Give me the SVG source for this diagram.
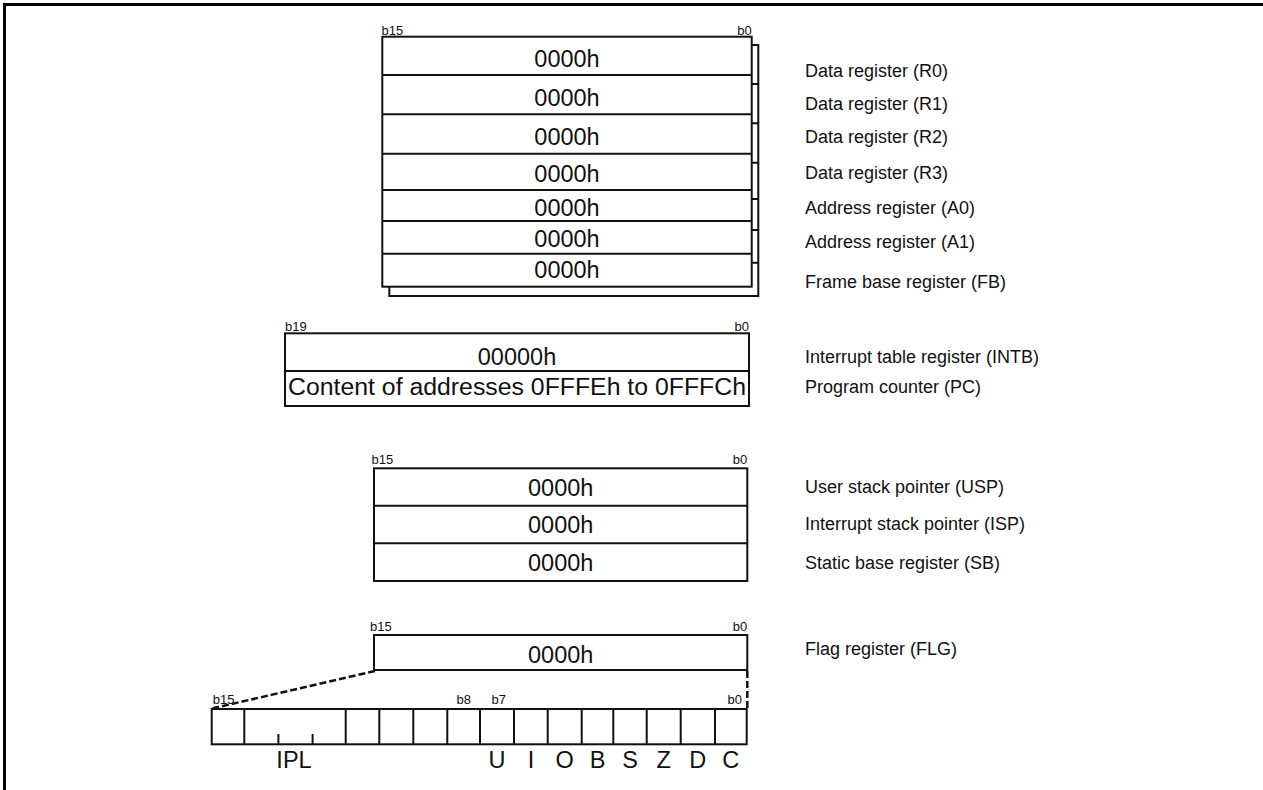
<svg xmlns="http://www.w3.org/2000/svg" width="1263" height="790" viewBox="0 0 1263 790">
<style>
.box{fill:#fff;stroke:#111;stroke-width:2}
.ln{stroke:#111;stroke-width:2;fill:none}
.dash{stroke:#111;stroke-width:2.5;fill:none;stroke-dasharray:7 3}
.v{font-family:"Liberation Sans",Arial,sans-serif;font-size:23.5px;fill:#111;text-anchor:middle}
.b{font-family:"Liberation Sans",Arial,sans-serif;font-size:13px;fill:#111}
.lbl{font-family:"Liberation Sans",Arial,sans-serif;font-size:18px;fill:#111}
.fl{font-family:"Liberation Sans",Arial,sans-serif;font-size:23.5px;fill:#111;text-anchor:middle}
</style>
<rect width="1263" height="790" fill="#fff"/>
<path d="M4.5 790 V4.5 H1263" stroke="#000" stroke-width="3" fill="none"/>

<g id="bank-shadow">
<path class="ln" d="M751.7 45 H758.3 V296 H389.3 V286.7"/>
<path class="ln" d="M751.7 84 H758.3 M751.7 123.3 H758.3 M751.7 162.7 H758.3 M751.7 199 H758.3 M751.7 230 H758.3 M751.7 262.7 H758.3"/>
</g>

<g id="reg-bank">
<text class="b" x="381.5" y="35">b15</text>
<text class="b" x="751.7" y="35" text-anchor="end">b0</text>
<rect class="box" x="382.3" y="36.7" width="369.4" height="250"/>
<path class="ln" d="M382.3 75 H751.7 M382.3 114.3 H751.7 M382.3 153.7 H751.7 M382.3 190 H751.7 M382.3 221 H751.7 M382.3 253.7 H751.7"/>
<text class="v" x="567" y="67.3">0000h</text>
<text class="v" x="567" y="106">0000h</text>
<text class="v" x="567" y="145">0000h</text>
<text class="v" x="567" y="182.3">0000h</text>
<text class="v" x="567" y="215.7">0000h</text>
<text class="v" x="567" y="246.7">0000h</text>
<text class="v" x="567" y="278.3">0000h</text>
</g>

<g id="intb-pc">
<text class="b" x="285" y="330.7">b19</text>
<text class="b" x="749" y="330.7" text-anchor="end">b0</text>
<rect class="box" x="285" y="333.3" width="464" height="72.7"/>
<path class="ln" d="M285 371 H749"/>
<text class="v" x="517" y="365">00000h</text>
<text class="v" x="517" y="395" textLength="458" lengthAdjust="spacingAndGlyphs">Content of addresses 0FFFEh to 0FFFCh</text>
</g>

<g id="stack-regs">
<text class="b" x="371.5" y="464.3">b15</text>
<text class="b" x="747.3" y="464.3" text-anchor="end">b0</text>
<rect class="box" x="374" y="468.3" width="373.3" height="112.7"/>
<path class="ln" d="M374 505.7 H747.3 M374 543.3 H747.3"/>
<text class="v" x="560.7" y="495.7">0000h</text>
<text class="v" x="560.7" y="533.3">0000h</text>
<text class="v" x="560.7" y="571">0000h</text>
</g>

<g id="flg">
<text class="b" x="370" y="630.7">b15</text>
<text class="b" x="747.3" y="630.7" text-anchor="end">b0</text>
<rect class="box" x="374" y="635" width="373.3" height="35"/>
<text class="v" x="560.7" y="662.7">0000h</text>
</g>

<g id="connectors">
<path class="dash" d="M375 671 L212.7 708.3"/>
<path class="dash" d="M747.3 671 V708.3"/>
</g>

<g id="flag-bits">
<text class="b" x="212.7" y="704.3">b15</text>
<text class="b" x="456.5" y="704.3">b8</text>
<text class="b" x="491.5" y="704.3">b7</text>
<text class="b" x="742" y="704.3" text-anchor="end">b0</text>
<rect class="box" x="211.7" y="709" width="535" height="35.3"/>
<path class="ln" d="M244.3 709 V744.3 M345.7 709 V744.3 M379.3 709 V744.3 M413.3 709 V744.3 M447.3 709 V744.3 M480 709 V744.3 M514 709 V744.3 M547.7 709 V744.3 M581.7 709 V744.3 M613.3 709 V744.3 M646.7 709 V744.3 M680.7 709 V744.3 M715 709 V744.3"/>
<path class="ln" d="M278.4 734 V744.3 M312.6 734 V744.3"/>
<text class="fl" x="294" y="767.5">IPL</text>
<text class="fl" x="497" y="767.5">U</text>
<text class="fl" x="531" y="767.5">I</text>
<text class="fl" x="564.7" y="767.5">O</text>
<text class="fl" x="597.5" y="767.5">B</text>
<text class="fl" x="630" y="767.5">S</text>
<text class="fl" x="663.7" y="767.5">Z</text>
<text class="fl" x="697.8" y="767.5">D</text>
<text class="fl" x="730.8" y="767.5">C</text>
</g>

<g id="labels">
<text class="lbl" x="805" y="77">Data register (R0)</text>
<text class="lbl" x="805" y="110">Data register (R1)</text>
<text class="lbl" x="805" y="142.5">Data register (R2)</text>
<text class="lbl" x="805" y="179">Data register (R3)</text>
<text class="lbl" x="805" y="214">Address register (A0)</text>
<text class="lbl" x="805" y="248">Address register (A1)</text>
<text class="lbl" x="805" y="287.5">Frame base register (FB)</text>
<text class="lbl" x="805" y="362.5">Interrupt table register (INTB)</text>
<text class="lbl" x="805" y="392.5">Program counter (PC)</text>
<text class="lbl" x="805" y="492.5">User stack pointer (USP)</text>
<text class="lbl" x="805" y="529.5">Interrupt stack pointer (ISP)</text>
<text class="lbl" x="805" y="568.5">Static base register (SB)</text>
<text class="lbl" x="805" y="654.5">Flag register (FLG)</text>
</g>
</svg>
